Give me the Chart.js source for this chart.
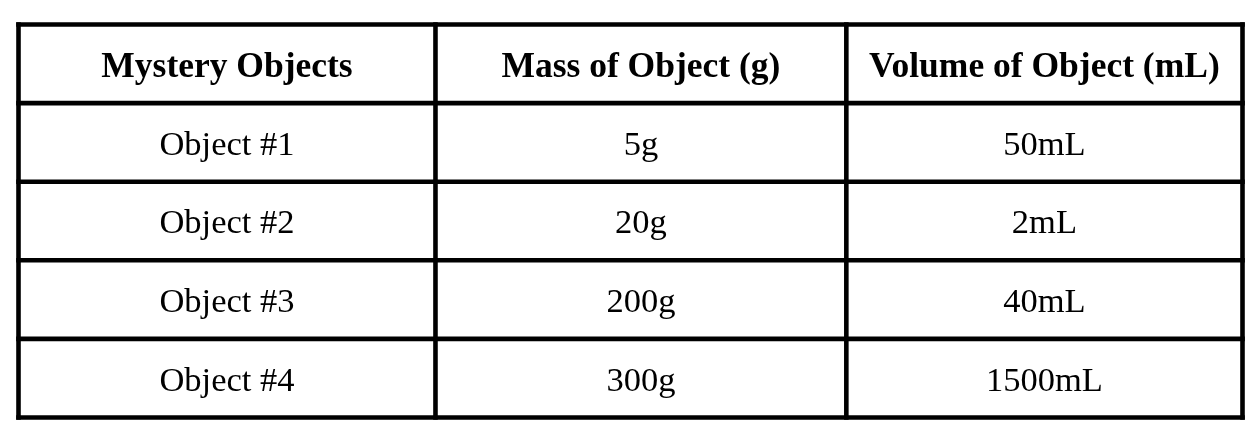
<!DOCTYPE html>
<html>
<head>
<meta charset="utf-8">
<script src="https://cdn.jsdelivr.net/npm/chart.js@4.4.1/dist/chart.umd.min.js"></script>
<style>
  html, body { margin: 0; padding: 0; background: #fff; }
  #wrap { width: 1258px; height: 432px; }
</style>
</head>
<body>
<div id="wrap"><canvas id="TableChart"></canvas></div>
<script>
let Headers = ["Mystery Objects", "Mass of Object (g)", "Volume of Object (mL)"];
let Objects = ["Object #1", "Object #2", "Object #3", "Object #4"];
let MassValues = [5, 20, 200, 300];
let VolumeValues = [50, 2, 40, 1500];
let MassUnit = "g";
let VolumeUnit = "mL";

// column edges on the x scale (0..3), the first column is a bit wider
const colEdges = [0, 1.022, 2.029, 3];
const black = "#000000";
const serif = "'Liberation Serif', 'Times New Roman', serif";

function colCenter(i) {
    return (colEdges[i] + colEdges[i + 1]) / 2;
}

// one point per cell, label kept on the point
function buildCells() {
    let cells = [];
    Headers.forEach((h, c) => cells.push({x: colCenter(c), y: 0.5, label: h, head: true}));
    Objects.forEach((name, r) => {
        cells.push({x: colCenter(0), y: r + 1.5, label: name});
        cells.push({x: colCenter(1), y: r + 1.5, label: MassValues[r] + MassUnit});
        cells.push({x: colCenter(2), y: r + 1.5, label: VolumeValues[r] + VolumeUnit});
    });
    return cells;
}

const tablePlugin = {
    id: "tablePlugin",
    beforeDraw(chart) {
        const ctx = chart.ctx;
        ctx.save();
        ctx.fillStyle = "#ffffff";
        ctx.fillRect(0, 0, chart.width, chart.height);
        ctx.restore();
    },
    afterDatasetsDraw(chart) {
        const ctx = chart.ctx;
        const xs = chart.scales.x;
        const ys = chart.scales.y;
        const rows = Objects.length + 1;
        ctx.save();
        ctx.strokeStyle = black;
        ctx.lineWidth = 4.6;
        ctx.lineCap = "square";
        const left = xs.getPixelForValue(colEdges[0]);
        const right = xs.getPixelForValue(colEdges[colEdges.length - 1]);
        const top = ys.getPixelForValue(0);
        const bottom = ys.getPixelForValue(rows);
        for (let r = 0; r <= rows; r++) {
            const y = ys.getPixelForValue(r);
            ctx.beginPath();
            ctx.moveTo(left, y);
            ctx.lineTo(right, y);
            ctx.stroke();
        }
        colEdges.forEach(e => {
            const x = xs.getPixelForValue(e);
            ctx.beginPath();
            ctx.moveTo(x, top);
            ctx.lineTo(x, bottom);
            ctx.stroke();
        });

        // cell texts
        ctx.fillStyle = black;
        ctx.textAlign = "center";
        ctx.textBaseline = "alphabetic";
        const meta = chart.getDatasetMeta(0);
        meta.data.forEach((pt, i) => {
            const cell = chart.data.datasets[0].data[i];
            const size = cell.head ? 35.5 : 34.5;
            ctx.font = (cell.head ? "bold " : "") + size + "px " + serif;
            ctx.fillText(cell.label, pt.x, pt.y + size * 0.331 + 1);
        });
        ctx.restore();
    }
};

new Chart("TableChart", {
    type: "scatter",
    data: {
        datasets: [{
            data: buildCells(),
            pointRadius: 0,
            pointHoverRadius: 0
        }]
    },
    options: {
        responsive: true,
        maintainAspectRatio: false,
        animation: false,
        events: [],
        layout: {
            padding: {left: 18.5, right: 15.5, top: 24.5, bottom: 14.5}
        },
        plugins: {
            legend: {display: false},
            tooltip: {enabled: false}
        },
        scales: {
            x: {type: "linear", min: 0, max: 3, display: false},
            y: {type: "linear", min: 0, max: Objects.length + 1, reverse: true, display: false}
        }
    },
    plugins: [tablePlugin]
});
</script>
</body>
</html>
